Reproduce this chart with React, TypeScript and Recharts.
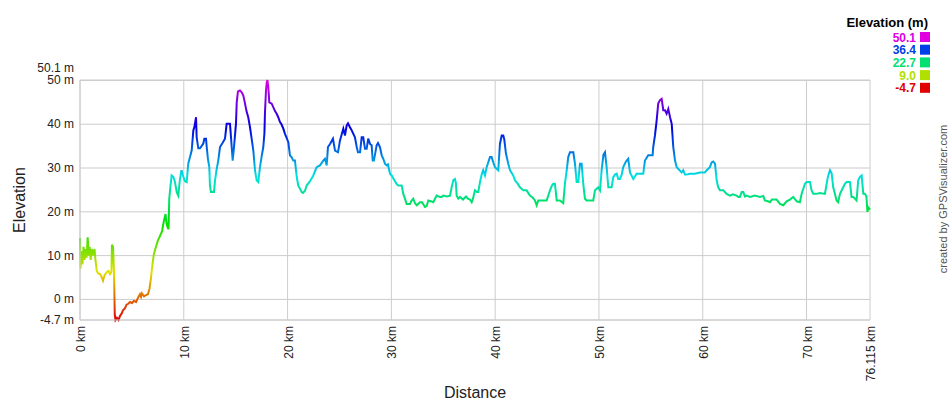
import React from "react";
import { LineChart, Line, XAxis, YAxis, CartesianGrid } from "recharts";

const distanceKm = [
  0, 0.05, 0.14, 0.24, 0.34, 0.43, 0.53, 0.63, 0.74, 0.84, 0.93, 1.03, 1.13, 1.25, 1.4, 1.49, 1.61, 1.73, 1.93, 2.07,
  2.22, 2.36, 2.57, 2.75, 2.89, 3.03, 3.08, 3.18, 3.28, 3.35, 3.42, 3.56, 3.71, 3.85, 4.02, 4.14, 4.34, 4.48, 4.65, 4.82,
  5.01, 5.2, 5.4, 5.59, 5.78, 5.88, 5.97, 6.17, 6.36, 6.55, 6.7, 6.84, 6.98, 7.13, 7.32, 7.51, 7.71, 7.9, 8.09, 8.24,
  8.33, 8.43, 8.53, 8.6, 8.72, 8.83, 8.99, 9.15, 9.32, 9.47, 9.63, 9.78, 9.95, 10.12, 10.28, 10.43, 10.6, 10.76, 10.92, 11.03,
  11.18, 11.24, 11.4, 11.56, 11.71, 11.88, 11.98, 12.14, 12.21, 12.33, 12.46, 12.52, 12.62, 12.91, 13.01, 13.15, 13.32, 13.49, 13.73, 13.97,
  14.13, 14.45, 14.55, 14.71, 14.84, 15.03, 15.1, 15.22, 15.41, 15.58, 15.73, 15.9, 16.04, 16.21, 16.38, 16.52, 16.7, 16.86, 17.02, 17.18,
  17.34, 17.49, 17.66, 17.77, 17.82, 17.92, 17.99, 18.06, 18.14, 18.24, 18.47, 18.64, 18.79, 18.95, 19.1, 19.27, 19.41, 19.59, 19.75, 19.89,
  20.07, 20.23, 20.38, 20.55, 20.71, 20.88, 21.03, 21.19, 21.36, 21.48, 21.68, 21.84, 22.16, 22.48, 22.8, 23.12, 23.44, 23.6, 23.77, 23.89,
  24.09, 24.37, 24.57, 24.86, 25.05, 25.19, 25.37, 25.53, 25.69, 25.82, 26.01, 26.18, 26.49, 26.66, 26.78, 26.98, 27.14, 27.29, 27.46, 27.62,
  27.77, 27.94, 28.1, 28.2, 28.32, 28.58, 28.71, 28.9, 29.07, 29.24, 29.38, 29.55, 29.67, 29.87, 30.03, 30.15, 30.35, 30.51, 30.66, 30.99,
  31.15, 31.31, 31.47, 31.79, 31.94, 32.11, 32.27, 32.44, 32.76, 32.95, 33.24, 33.4, 33.56, 33.82, 34.04, 34.36, 34.68, 34.85, 35.0, 35.36,
  35.65, 35.81, 35.98, 36.13, 36.22, 36.29, 36.45, 36.61, 36.9, 37.19, 37.38, 37.57, 37.74, 37.86, 38.05, 38.25, 38.37, 38.54, 38.7, 38.85,
  39.02, 39.18, 39.36, 39.5, 39.66, 39.82, 39.98, 40.3, 40.46, 40.63, 40.78, 40.88, 41.04, 41.26, 41.43, 41.74, 41.91, 42.15, 42.39, 42.71,
  43.03, 43.35, 43.64, 43.83, 44.0, 44.15, 44.51, 44.96, 45.09, 45.28, 45.47, 45.6, 45.76, 45.93, 46.24, 46.56, 46.72, 46.92, 47.04, 47.21,
  47.53, 47.69, 47.85, 48.01, 48.17, 48.33, 48.49, 48.65, 48.81, 49.45, 49.62, 49.93, 50.1, 50.26, 50.43, 50.58, 50.74, 50.9, 51.22, 51.38,
  51.54, 51.71, 51.86, 52.02, 52.19, 52.34, 52.6, 52.82, 52.99, 53.31, 53.63, 54.27, 54.43, 54.75, 55.17, 55.23, 55.4, 55.56, 55.71, 55.88,
  56.04, 56.2, 56.36, 56.52, 56.68, 56.85, 57.01, 57.16, 57.33, 57.49, 57.97, 58.12, 58.29, 58.45, 58.77, 59.25, 59.73, 60.21, 60.38, 60.69,
  60.86, 61.01, 61.18, 61.34, 61.49, 61.66, 61.98, 62.3, 62.62, 62.91, 63.27, 63.43, 63.58, 63.75, 63.91, 64.07, 64.23, 64.55, 65.03, 65.51,
  65.83, 65.99, 66.28, 66.47, 66.67, 67.12, 67.44, 67.76, 68.08, 68.4, 68.72, 69.05, 69.36, 69.53, 69.85, 70.01, 70.33, 70.49, 70.65, 70.97,
  71.29, 71.77, 71.94, 72.06, 72.26, 72.42, 72.57, 72.9, 73.05, 73.22, 73.51, 73.7, 73.86, 74.18, 74.34, 74.5, 74.82, 74.98, 75.15, 75.31,
  75.47, 75.63, 75.77, 75.87, 75.95, 76.115,
];

const elevationM = [
  14.0, 7, 11, 8, 12, 9, 11.5, 9.5, 14.2, 10, 12, 9, 11.5, 10, 11.5, 9, 6.6, 6, 5.8, 5.2,
  4.3, 5.5, 6.2, 6.5, 5.8, 6.3, 12.5, 12, 6, -3.5, -4.7, -4.2, -4.7, -3.8, -3.2, -2.5, -2, -1.2, -1, -0.6,
  -0.8, -0.3, -0.6, 0.4, 1.2, 0.6, 1.4, 0.7, 1, 1.2, 2.5, 5, 8, 10.5, 12, 13.5, 14.5, 15.5, 18, 19.5,
  17.5, 16.5, 16, 23, 26, 28.3, 28, 26.8, 24.5, 23.7, 27.5, 29.5, 28, 27, 26.8, 31, 32.5, 34, 38.6, 39.5,
  41.6, 37, 34.5, 34.5, 35, 35.6, 36.7, 36.7, 34.8, 32, 30.2, 26, 24.5, 24.5, 27.2, 29.5, 31.7, 34.8, 35.7, 36.7,
  40.1, 40.1, 37, 31.7, 34.8, 40.2, 45, 47.5, 47.7, 47.3, 46.6, 44.7, 43, 41.6, 39.3, 37, 34, 29.5, 27.2, 26.8,
  30.2, 32.5, 34.8, 38, 42.5, 47.7, 49.5, 50.1, 48.5, 45, 44.7, 43.8, 43, 42.4, 41.6, 40.5, 40, 39, 37.8, 37,
  35.9, 32.9, 32.5, 31.7, 31.7, 28, 26, 25.3, 24.5, 24.3, 24.8, 26, 27, 28.3, 30.2, 30.6, 31.7, 32.1, 30.6, 34.8,
  35.5, 36.7, 34, 33.6, 36.3, 37.5, 39, 37.4, 39.7, 40.2, 39.3, 38.6, 37, 34.8, 33.6, 33.6, 37, 37, 34.4, 34.4,
  36.7, 35.5, 35.2, 31.7, 31.7, 35.2, 35.7, 34.8, 32.9, 32, 31, 30.6, 30.8, 28.7, 28.3, 27.8, 27, 26.4, 26, 26,
  24.1, 23, 21.8, 21.8, 22.5, 23, 22, 21.5, 22.2, 22.2, 21.1, 21.3, 22.6, 22.4, 22.2, 23.7, 23.4, 23.4, 23.7, 23.5,
  23.7, 25.6, 27.3, 27.5, 26.5, 23.7, 23, 23.4, 22.8, 23.5, 23, 22.8, 22.2, 23, 24.9, 24.5, 24.5, 26.8, 28.5, 29.5,
  28.3, 30.2, 31.5, 32.5, 32.5, 31.3, 30.2, 29.5, 35.5, 37.4, 37.4, 36.5, 33.3, 31, 29.5, 28.3, 27.2, 26.5, 25.6, 24.9,
  24.9, 23.7, 23.2, 22.6, 21.5, 22.6, 22.6, 22.6, 23.5, 24.9, 26, 26.4, 26.4, 22.6, 22.6, 22, 26.4, 30, 32.5, 33.6,
  33.6, 31, 26.8, 26.8, 31, 31, 26.4, 23, 22.6, 22.6, 24.9, 25.6, 24.9, 29.5, 33, 33.6, 30.2, 25.6, 25.6, 27.9,
  28.5, 28.7, 27.5, 27.5, 28.5, 30.2, 31.5, 32.1, 29, 27.5, 28.7, 28.7, 31.7, 32.9, 32.9, 34.8, 37.5, 40.9, 44.7, 45.5,
  45.8, 43.2, 43.2, 42.4, 43.5, 41.6, 40.1, 34.8, 31.7, 30.2, 29, 29.5, 28.5, 28.5, 28.7, 28.7, 29, 29, 29.5, 30.2,
  31.3, 31.5, 31, 27.2, 25.6, 24.9, 24.9, 24.1, 23.7, 24, 23.7, 23.4, 23.4, 24.5, 24.5, 23.5, 23.7, 23.4, 23.7, 23.4,
  23.6, 22.6, 22.4, 22.2, 22.8, 22.8, 21.8, 21.5, 22.4, 22.8, 23.4, 22.4, 22.2, 24.1, 26.4, 26.8, 26.8, 24.9, 24.1, 24.1,
  24.3, 24.1, 26.4, 28, 29.5, 28.8, 25.6, 22.6, 22.2, 24.1, 25.5, 26.4, 26.8, 26.8, 23.4, 23.4, 22.6, 27.2, 28, 28.3,
  24.1, 24.1, 23.5, 20, 21, 20.5,
];

const xTicks = [0, 10, 20, 30, 40, 50, 60, 70, 76.115];
const yTicks = [-4.7, 0, 10, 20, 30, 40, 50, 50.1];
const legendValues = [50.1, 36.4, 22.7, 9.0, -4.7];
const legendColors = ["#e000e0", "#0040e8", "#00e070", "#b0e000", "#e00000"];
const gradientHues = [300, 270, 240, 210, 180, 150, 120, 90, 60, 30, 0];

const data = distanceKm.map((km, i) => ({ km, ele: elevationM[i] }));

const FONT = "Arial, 'Liberation Sans', sans-serif";

const YTick = (props: any) => {
  const { x, y, payload } = props;
  const shift = payload.value === 50.1 ? -12 : 0;
  return (
    <text x={x} y={y + shift} dy={4} textAnchor="end" fontSize={12} fontFamily={FONT} fill="#222">
      {`${payload.value} m`}
    </text>
  );
};

const XTick = (props: any) => {
  const { x, y, payload } = props;
  const tx = x + 5;
  return (
    <text
      x={tx}
      y={y}
      transform={`rotate(-90, ${tx}, ${y})`}
      textAnchor="end"
      fontSize={12}
      fontFamily={FONT}
      fill="#222"
    >
      {`${payload.value} km`}
    </text>
  );
};

export default function App() {
  return (
    <div style={{ position: "absolute", left: 0, top: 0, width: 950, height: 400, background: "#fff" }}>
      <LineChart width={950} height={400} data={data} margin={{ top: 80, right: 80, bottom: 0, left: 0 }}>
        <defs>
          <linearGradient id="elevGrad" x1="0" y1="0" x2="0" y2="1">
            {gradientHues.map((h, i) => (
              <stop key={h} offset={i / (gradientHues.length - 1)} stopColor={`hsl(${h}, 100%, 44%)`} />
            ))}
          </linearGradient>
        </defs>
        <CartesianGrid stroke="#cccccc" strokeWidth={1} />
        <XAxis
          dataKey="km"
          type="number"
          domain={[0, 76.115]}
          ticks={xTicks}
          interval={0}
          height={80}
          tickLine={false}
          tickSize={4}
          axisLine={{ stroke: "#cccccc" }}
          tick={<XTick />}
        />
        <YAxis
          type="number"
          domain={[-4.7, 50.1]}
          ticks={yTicks}
          interval={0}
          width={80}
          tickLine={false}
          tickSize={4}
          axisLine={{ stroke: "#cccccc" }}
          tick={<YTick />}
        />
        <Line
          type="linear"
          dataKey="ele"
          stroke="url(#elevGrad)"
          strokeWidth={2}
          dot={false}
          isAnimationActive={false}
        />
      </LineChart>
      <svg
        width={950}
        height={400}
        style={{ position: "absolute", left: 0, top: 0, pointerEvents: "none" }}
      >
        <text x={25} y={200} transform="rotate(-90, 25, 200)" textAnchor="middle" fontSize={16} fontFamily={FONT} fill="#222">
          Elevation
        </text>
        <text x={475} y={398} textAnchor="middle" fontSize={16} fontFamily={FONT} fill="#222">
          Distance
        </text>
        <text x={928} y={27} textAnchor="end" fontSize={13} fontWeight="bold" fontFamily={FONT} fill="#000">
          Elevation (m)
        </text>
        {legendValues.map((v, i) => (
          <g key={v}>
            <text
              x={916}
              y={41.5 + i * 12.7}
              textAnchor="end"
              fontSize={12}
              fontWeight="bold"
              fontFamily={FONT}
              fill={legendColors[i]}
            >
              {v.toFixed(1)}
            </text>
            <rect x={920} y={32 + i * 12.7} width={10} height={10} fill={legendColors[i]} />
          </g>
        ))}
        <text
          x={947}
          y={199}
          transform="rotate(-90, 947, 199)"
          textAnchor="middle"
          fontSize={11}
          fontFamily={FONT}
          fill="#555"
        >
          created by GPSVisualizer.com
        </text>
      </svg>
    </div>
  );
}
